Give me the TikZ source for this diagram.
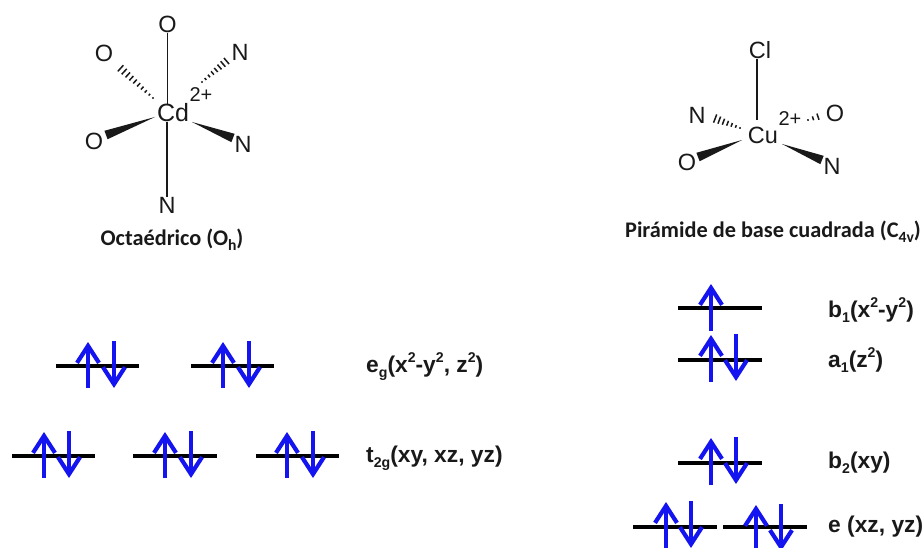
\documentclass[tikz,border=0pt]{standalone}
\usepackage{fontspec}
\setmainfont{Liberation Sans}
\newfontfamily\capfont{Carlito}
\usetikzlibrary{calc,arrows.meta}
\definecolor{spinblue}{RGB}{20,20,240}
\definecolor{inkc}{RGB}{25,25,25}
\newcommand{\lsub}[2][0.62]{\raisebox{-0.22em}{\scalebox{#1}{#2}}}
\newcommand{\lsup}[2][0.62]{\raisebox{0.42em}{\scalebox{#1}{#2}}}
% narrow end, wide end, half width
\newcommand{\wedgebond}[3]{\fill[inkc] (#1) -- ($(#2)!#3!90:(#1)$) -- ($(#2)!#3!-90:(#1)$) -- cycle;}
% start, end, half width at end, number of steps
\newcommand{\hashbond}[4]{%
  \foreach \i in {0,...,#4}{%
    \pgfmathsetmacro{\tt}{\i/#4}%
    \pgfmathsetmacro{\hw}{0.8+(#3-0.8)*\tt}%
    \coordinate (hc) at ($(#1)!\tt!(#2)$);
    \draw[inkc,line width=1.5pt] ($(hc)!\hw pt!90:(#2)$) -- ($(hc)!\hw pt!-90:(#2)$);
  }}
\tikzset{
  atom/.style={inner sep=0pt,font=\fontsize{23.5}{24}\selectfont,text=inkc},
  charge/.style={inner sep=0pt,font=\fontsize{20}{20}\selectfont,text=inkc},
  bond/.style={draw=inkc,line width=1.2pt},
  caption/.style={inner sep=0pt,font=\capfont\bfseries\fontsize{22.3}{23}\selectfont,text=inkc},
  orblabel/.style={inner sep=0pt,anchor=base west,font=\bfseries\fontsize{22.8}{23}\selectfont,text=inkc},
  level/.style={draw=black,line width=4pt},
  spin/.style={draw=spinblue,line width=4.2pt,-{Straight Barb[length=17pt,width=22pt,line width=4.2pt]}},
}
\begin{document}
\begin{tikzpicture}[x=1pt,y=-1pt]
\useasboundingbox (0,0) rectangle (923,548);
% ---------- Cd complex
\node[atom,font=\fontsize{25}{25}\selectfont] (Cd) at (173,113) {Cd};
\node[charge] (cdq) at (201,95) {2+};
\node[atom] (Ot) at (167.5,24) {O};
\node[atom] (Nb) at (167,205) {N};
\node[atom] (Oul) at (104,53) {O};
\node[atom] (Nur) at (240,52) {N};
\node[atom] (Oll) at (94,141) {O};
\node[atom] (Nlr) at (243,144) {N};
\draw[bond] (Ot.south) -- (Ot.south |- Cd.north);
\draw[bond] (Nb.north) -- (Nb.north |- Cd.south);
\coordinate (a1) at (153,98); \coordinate (a2) at (117,65);
\hashbond{a1}{a2}{4.5}{10}
\coordinate (a3) at (202,82); \coordinate (a4) at (230,58);
\hashbond{a3}{a4}{4.5}{8}
\coordinate (a5) at (155,117); \coordinate (a6) at (106,135);
\wedgebond{a5}{a6}{4.5pt}
\coordinate (a7) at (192,122); \coordinate (a8) at (233,138);
\wedgebond{a7}{a8}{4.5pt}
\node[caption] (capa) at (172,240) {Octaédrico (O\lsub[0.7]{h})};
% ---------- Cu complex
\node[atom] (Cu) at (763,135) {Cu};
\node[charge] (cuq) at (790,119) {2+};
\node[atom] (Cl) at (760,50) {Cl};
\node[atom] (Nl) at (697,115) {N};
\node[atom] (Or) at (835,113) {O};
\node[atom] (Olw) at (687,162) {O};
\node[atom] (Nrw) at (832,166) {N};
\draw[bond] (Cl.south -| Cu.north) ++(-6,0) -- ++(0,61);
\coordinate (b1) at (740,128); \coordinate (b2) at (711,117);
\hashbond{b1}{b2}{5}{7}
\coordinate (b3) at (808,120); \coordinate (b4) at (823,115);
\hashbond{b3}{b4}{4.5}{3}
\coordinate (b5) at (742,140); \coordinate (b6) at (698,157);
\wedgebond{b5}{b6}{4.5pt}
\coordinate (b7) at (782,144); \coordinate (b8) at (822,160);
\wedgebond{b7}{b8}{4.5pt}
\node[caption] (capb) at (773,232) {Pirámide de base cuadrada (C\lsub[0.7]{4v})};
% ---------- Oh levels
\foreach \xa/\xb/\u/\d in {56/139/88/114, 191/274/223/249}{
  \draw[level] (\xa,366) -- (\xb,366);
  \draw[spin] (\u,388) -- (\u,342);
  \draw[spin] (\d,341) -- (\d,388);
}
\foreach \xa/\xb/\u/\d in {12/95/44/69, 133/217/165/191, 256/339/287/313}{
  \draw[level] (\xa,456) -- (\xb,456);
  \draw[spin] (\u,478) -- (\u,432);
  \draw[spin] (\d,431) -- (\d,478);
}
\node[orblabel] (leg) at (366,372) {e\lsub{g}(x\lsup{2}-y\lsup{2}, z\lsup{2})};
\node[orblabel] (lt) at (366,462) {t\lsub{2g}(xy, xz, yz)};
% ---------- C4v levels
\draw[level] (678,308) -- (762,308);
\draw[spin] (711,331) -- (711,284);
\draw[level] (678,360) -- (762,360);
\draw[spin] (711,382) -- (711,335);
\draw[spin] (736,334) -- (736,381);
\draw[level] (678,463) -- (762,463);
\draw[spin] (711,485) -- (711,438);
\draw[spin] (736,437) -- (736,484);
\draw[level] (633,527) -- (717,527);
\draw[spin] (666,548) -- (666,502);
\draw[spin] (691,501) -- (691,548);
\draw[level] (723,527) -- (807,527);
\draw[spin] (756,551) -- (756,505);
\draw[spin] (781,504) -- (781,551);
\node[orblabel] (lb1) at (828,317) {b\lsub{1}(x\lsup{2}-y\lsup{2})};
\node[orblabel] (la1) at (828,367) {a\lsub{1}(z\lsup{2})};
\node[orblabel] (lb2) at (828,468) {b\lsub{2}(xy)};
\node[orblabel] (le) at (828,532) {e (xz, yz)};
\end{tikzpicture}
\end{document}
